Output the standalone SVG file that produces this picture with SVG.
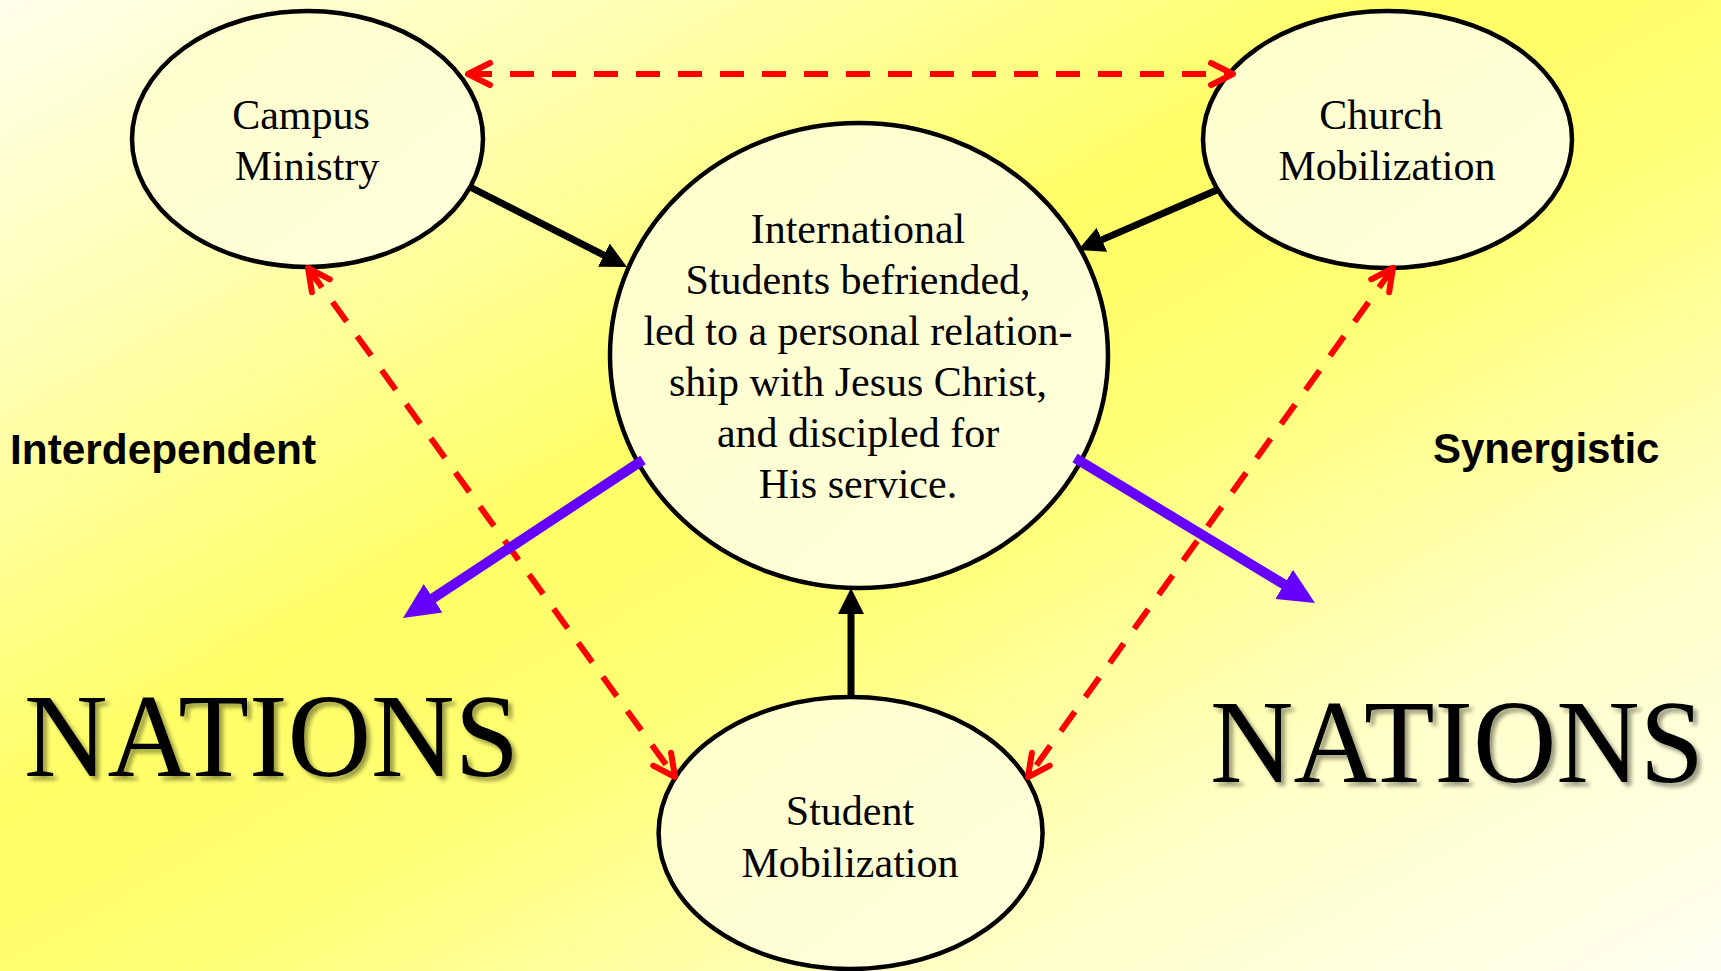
<svg xmlns="http://www.w3.org/2000/svg" width="1721" height="971" viewBox="0 0 1721 971">
  <defs>
    <linearGradient id="bg" x1="0" y1="0" x2="1" y2="1">
      <stop offset="0" stop-color="#FFFFEC"/>
      <stop offset="0.2" stop-color="#FFFFB0"/>
      <stop offset="0.42" stop-color="#FFFF66"/>
      <stop offset="0.55" stop-color="#FFFF74"/>
      <stop offset="0.78" stop-color="#FFFFC8"/>
      <stop offset="1" stop-color="#FFFFF2"/>
    </linearGradient>
    <linearGradient id="nodefill" x1="0" y1="0" x2="1" y2="1">
      <stop offset="0" stop-color="#FFFFCC"/>
      <stop offset="1" stop-color="#FFFFDD"/>
    </linearGradient>
    <filter id="shadow" x="-5%" y="-10%" width="115%" height="130%">
      <feGaussianBlur in="SourceAlpha" stdDeviation="2"/>
      <feOffset dx="4" dy="4" result="b"/>
      <feComponentTransfer><feFuncA type="linear" slope="0.4"/></feComponentTransfer>
      <feMerge><feMergeNode/><feMergeNode in="SourceGraphic"/></feMerge>
    </filter>
    <marker id="chev" markerUnits="userSpaceOnUse" viewBox="-30 -20 40 40" markerWidth="40" markerHeight="40" refX="0" refY="0" orient="auto-start-reverse">
      <path d="M-22,-11 L0,0 L-22,11" fill="none" stroke="#FF0000" stroke-width="6" stroke-linecap="round" stroke-linejoin="round"/>
    </marker>
    <marker id="blk" markerUnits="userSpaceOnUse" viewBox="0 -14 30 28" markerWidth="30" markerHeight="28" refX="6" refY="0" orient="auto">
      <path d="M0,-13 L26,0 L0,13 z" fill="#000"/>
    </marker>
    <marker id="pur" markerUnits="userSpaceOnUse" viewBox="0 -20 40 40" markerWidth="40" markerHeight="40" refX="11" refY="0" orient="auto">
      <path d="M0,-17 L36,0 L0,17 z" fill="#6600FF"/>
    </marker>
    <style>
      .node { fill: url(#nodefill); stroke: #000; stroke-width: 4.5; }
      .lbl { font-family: "Liberation Serif", "Times New Roman", serif; font-size: 42px; fill: #000; text-anchor: middle; }
      .side { font-family: "Liberation Sans", Arial, sans-serif; font-size: 42px; font-weight: bold; fill: #000; }
      .big { font-family: "Liberation Serif", "Times New Roman", serif; font-size: 118px; fill: #000; }
      .dash { fill: none; stroke: #FF0000; stroke-width: 6; stroke-dasharray: 24 18; marker-start: url(#chev); marker-end: url(#chev); }
      .black { fill: none; stroke: #000; stroke-width: 7; marker-end: url(#blk); }
      .purple { fill: none; stroke: #6600FF; stroke-width: 10; marker-end: url(#pur); }
    </style>
  </defs>

  <rect x="0" y="0" width="1721" height="971" fill="url(#bg)"/>

  <g id="node-campus">
    <ellipse class="node" cx="307.5" cy="139" rx="175.5" ry="128"/>
    <text class="lbl" x="301" y="129">Campus</text>
    <text class="lbl" x="307" y="180">Ministry</text>
  </g>

  <g id="node-church">
    <ellipse class="node" cx="1387.5" cy="139.5" rx="184.5" ry="128.5"/>
    <text class="lbl" x="1381" y="129">Church</text>
    <text class="lbl" x="1387" y="180">Mobilization</text>
  </g>

  <g id="node-center">
    <ellipse class="node" cx="859" cy="355.5" rx="249" ry="232.5"/>
    <text class="lbl" x="858" y="243">International</text>
    <text class="lbl" x="858" y="294">Students befriended,</text>
    <text class="lbl" x="858" y="345">led to a personal relation-</text>
    <text class="lbl" x="858" y="396">ship with Jesus Christ,</text>
    <text class="lbl" x="858" y="447">and discipled for</text>
    <text class="lbl" x="858" y="498">His service.</text>
  </g>

  <g id="node-student">
    <ellipse class="node" cx="850.6" cy="833" rx="192" ry="136"/>
    <text class="lbl" x="850" y="825">Student</text>
    <text class="lbl" x="850" y="877">Mobilization</text>
  </g>

  <g id="label-interdependent">
    <text class="side" x="10" y="464" textLength="306" lengthAdjust="spacingAndGlyphs">Interdependent</text>
  </g>
  <g id="label-synergistic">
    <text class="side" x="1433" y="463">Synergistic</text>
  </g>

  <g id="label-nations-left" filter="url(#shadow)">
    <text class="big" x="24" y="776" textLength="495" lengthAdjust="spacingAndGlyphs">NATIONS</text>
  </g>
  <g id="label-nations-right" filter="url(#shadow)">
    <text class="big" x="1210" y="782" textLength="494" lengthAdjust="spacingAndGlyphs">NATIONS</text>
  </g>

  <g id="connectors">
    <line class="dash" x1="468" y1="74" x2="1233" y2="74"/>
    <line class="dash" x1="308" y1="268" x2="675" y2="777"/>
    <line class="dash" x1="1393" y1="268" x2="1028" y2="777"/>
    <line class="black" x1="470" y1="187" x2="609.2" y2="257.9"/>
    <line class="black" x1="1217" y1="190" x2="1096.4" y2="242.1"/>
    <line class="black" x1="851" y1="697" x2="851" y2="608"/>
    <line class="purple" x1="643" y1="460" x2="423.9" y2="604.3"/>
    <line class="purple" x1="1075" y1="458" x2="1293.6" y2="590.1"/>
  </g>
</svg>
